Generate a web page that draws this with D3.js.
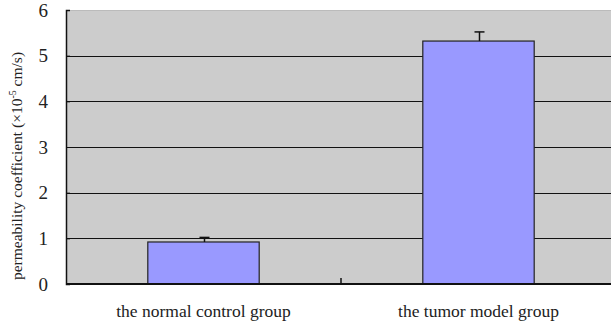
<!DOCTYPE html>
<html>
<script src="https://d3js.org/d3.v7.min.js"></script>
<style>
    body { margin: 0; background: #fff; }
</style>
<body></body>
<script>
    const groups = ["the normal control group", "the tumor model group"];
    const means = [0.92, 5.32];
    const errors = [0.10, 0.20];
    const yTicks = [0, 1, 2, 3, 4, 5, 6];

    const width = 611, height = 329;
    const plotLeft = 66, plotRight = 616, plotTop = 10, plotBottom = 284;
    const serif = "'Liberation Serif', 'Times New Roman', serif";

    const svg = d3.select("body").append("svg")
        .attr("width", width).attr("height", height)
        .attr("font-family", serif);

    const x = d3.scaleBand().domain(groups).range([plotLeft, plotRight]).paddingInner(0).paddingOuter(0);
    const y = d3.scaleLinear().domain([0, 6]).range([plotBottom, plotTop]);

    svg.append("rect")
        .attr("x", plotLeft).attr("y", plotTop)
        .attr("width", plotRight - plotLeft).attr("height", plotBottom - plotTop)
        .attr("fill", "#cccccc");
    svg.append("line")
        .attr("x1", plotLeft).attr("x2", plotRight).attr("y1", plotTop + 0.5).attr("y2", plotTop + 0.5)
        .attr("stroke", "#bbbbbb");

    yTicks.slice(1, -1).forEach(t => {
        svg.append("line")
            .attr("x1", plotLeft).attr("x2", plotRight)
            .attr("y1", Math.round(y(t)) + 0.5).attr("y2", Math.round(y(t)) + 0.5)
            .attr("stroke", "#111").attr("stroke-width", 1);
    });

    const bw = x.bandwidth() * 0.405;
    svg.selectAll("rect.bar")
        .data(groups)
        .join("rect")
        .attr("class", "bar")
        .attr("x", d => x(d) + (x.bandwidth() - bw) / 2)
        .attr("y", (d, i) => y(means[i]))
        .attr("width", bw)
        .attr("height", (d, i) => y(0) - y(means[i]))
        .attr("fill", "#9999ff")
        .attr("stroke", "#222")
        .attr("stroke-width", 1.2);

    groups.forEach((g, i) => {
        const cx = Math.round(x(g) + x.bandwidth() / 2) + 0.5;
        svg.append("line")
            .attr("x1", cx).attr("x2", cx)
            .attr("y1", y(means[i])).attr("y2", y(means[i] + errors[i]))
            .attr("stroke", "#111").attr("stroke-width", 1.5);
        svg.append("line")
            .attr("x1", cx - 5).attr("x2", cx + 5)
            .attr("y1", y(means[i] + errors[i])).attr("y2", y(means[i] + errors[i]))
            .attr("stroke", "#111").attr("stroke-width", 1.5);
    });

    // axes
    const yAxis = svg.append("g")
        .attr("transform", `translate(${plotLeft},0)`)
        .call(d3.axisRight(y).tickValues(yTicks).tickSize(4).tickFormat(""));
    yAxis.select(".domain").attr("stroke", "#111").attr("stroke-width", 1.5);
    yAxis.selectAll(".tick line").attr("stroke", "#111");

    svg.selectAll("text.ylab")
        .data(yTicks)
        .join("text")
        .attr("class", "ylab")
        .attr("x", 48)
        .attr("y", d => y(d) + 6.5)
        .attr("text-anchor", "end")
        .attr("font-size", 19)
        .attr("fill", "#222")
        .text(d => d);

    svg.append("line")
        .attr("x1", plotLeft).attr("x2", plotRight).attr("y1", plotBottom).attr("y2", plotBottom)
        .attr("stroke", "#111").attr("stroke-width", 1.8);
    const divX = x(groups[1]);
    svg.append("line")
        .attr("x1", divX).attr("x2", divX).attr("y1", plotBottom).attr("y2", plotBottom - 6)
        .attr("stroke", "#111").attr("stroke-width", 1.5);

    svg.selectAll("text.xlab")
        .data(groups)
        .join("text")
        .attr("class", "xlab")
        .attr("x", d => x(d) + x.bandwidth() / 2)
        .attr("y", 317)
        .attr("text-anchor", "middle")
        .attr("font-size", 17.5)
        .attr("fill", "#222")
        .text(d => d);

    const title = svg.append("text")
        .attr("transform", `translate(22,${(plotTop + plotBottom) / 2 + 19}) rotate(-90)`)
        .attr("text-anchor", "middle")
        .attr("font-size", 15.5)
        .attr("fill", "#222");
    title.append("tspan").text("permeability coefficient (×10");
    title.append("tspan").attr("dy", -6).attr("font-size", 10).text("-5");
    title.append("tspan").attr("dy", 6).text(" cm/s)");
</script>
</html>
